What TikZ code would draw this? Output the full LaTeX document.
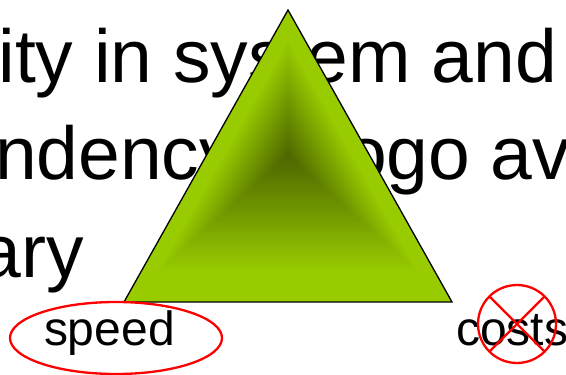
\documentclass[tikz,border=0pt]{standalone}
\usepackage{fontspec}
\setmainfont{Liberation Sans}
\definecolor{trigreen}{RGB}{153,204,0}
\definecolor{tridark}{RGB}{77,102,0}
\begin{document}
\begin{tikzpicture}[x=1pt,y=-1pt,
  bigtext/.style={font=\fontsize{75}{75}\selectfont, inner sep=0pt, outer sep=0pt},
  smalltext/.style={font=\fontsize{48}{48}\selectfont, inner sep=0pt, outer sep=0pt},
  redmark/.style={draw=red, line width=2.3pt}]
\useasboundingbox (0,0) rectangle (566,375);
\clip (0,0) rectangle (566,375);
% background text
\node[bigtext, anchor=base east] (l1) at (557,82) {ity in system and};
\node[bigtext, anchor=base west] (l2a) at (-5,179) {ndency};
\node[bigtext, anchor=base west] (l2b) at (345,179) {ogo av};
\node[bigtext, anchor=base east] (l3) at (84,277) {ary};
% triangle with path gradient
\coordinate (apex) at (288,10);
\coordinate (bl) at (124,302);
\coordinate (br) at (452,302);
\foreach \i in {0,...,99} {
  \pgfmathsetmacro{\t}{1-\i/100}
  \pgfmathsetmacro{\p}{min(100,\t*125)}
  \fill[trigreen!\p!tridark] (288,{156-\t*146}) -- ({288-\t*164},{156+\t*146}) -- ({288+\t*164},{156+\t*146}) -- cycle;
}
\draw[line width=1.3pt, line join=miter] (apex) -- (bl) -- (br) -- cycle;
% labels
\node[smalltext, anchor=base west] (speed) at (44,345) {speed};
\node[smalltext, anchor=base west] (costs) at (456,345) {costs};
\draw[redmark] (116,338) ellipse [x radius=106, y radius=36];
\coordinate (xc) at (517,324);
\draw[redmark] (xc) circle [radius=39];
\draw[redmark] ([shift={(45:39)}]xc) -- ([shift={(225:39)}]xc);
\draw[redmark] ([shift={(135:39)}]xc) -- ([shift={(315:39)}]xc);
\end{tikzpicture}
\end{document}
